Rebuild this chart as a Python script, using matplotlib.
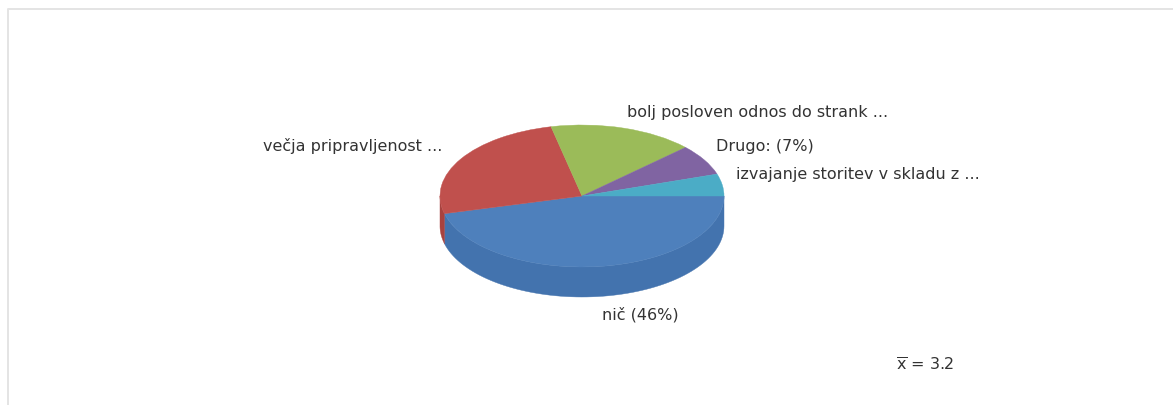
import numpy as np
import matplotlib
matplotlib.use("Agg")
import matplotlib.pyplot as plt
from matplotlib.lines import Line2D

# Survey shares, drawn clockwise from the east
shares = [46, 25.5, 16.5, 7, 5]
top_colors = ["#4E80BC", "#C0504D", "#9BBB59", "#8064A2", "#4BACC6"]
wall_colors = ["#4373AE", "#A8423F", "#87A34C", "#6F568D", "#3F96AD"]
labels = [
    "nič (46%)",
    "večja pripravljenost ...",
    "bolj posloven odnos do strank ...",
    "Drugo: (7%)",
    "izvajanje storitev v skladu z ...",
]
mean_note = r"$\overline{\mathrm{x}}$ = 3.2"

W, H = 1173, 405
CX, CY, RX, RY, DEPTH = 582, 196, 142, 71, 30

plt.rcParams["font.family"] = "DejaVu Sans"
plt.rcParams["mathtext.default"] = "regular"
fig = plt.figure(figsize=(W / 100, H / 100), dpi=100, facecolor="white")
ax = fig.add_axes([0, 0, 1, 1])

# Top face of the pie
ax.pie(shares, colors=top_colors, startangle=0, counterclock=False,
       radius=1, wedgeprops={"linewidth": 0.3, "zorder": 3})
for wedge, color in zip(ax.patches, top_colors):
    wedge.set_edgecolor(color)

# Scale the unit circle into a flattened ellipse
ax.set_aspect("auto")
ax.set_xlim(-CX / RX, (W - CX) / RX)
ax.set_ylim(-(H - CY) / RY, CY / RY)
ax.axis("off")

# Front wall: each wedge's arc on the near half, extruded downward
depth = DEPTH / RY
edges = np.concatenate([[0], np.cumsum(shares)]) * 3.6
for a, b, color in zip(edges[:-1], edges[1:], wall_colors):
    a, b = min(a, 180), min(b, 180)
    if b <= a:
        continue
    t = np.radians(np.linspace(a, b, 80))
    x, y = np.cos(t), -np.sin(t)
    ax.fill(np.r_[x, x[::-1]], np.r_[y, y[::-1] - depth],
            color=color, lw=0.3, zorder=2)

# Labels around the pie
positions = [(602, 315), (263, 146), (627, 112), (716, 146), (736, 175)]
for label, (px, py) in zip(labels, positions):
    fig.text(px / W, 1 - py / H, label, ha="left", va="center",
             fontsize=11.5, color="#333333")
fig.text(896 / W, 1 - 365 / H, mean_note, ha="left", va="center",
         fontsize=11.5, color="#333333")

# Panel border along the top and left
border = "#E4E4E4"
fig.add_artist(Line2D([8 / W, 8 / W, 1], [0, 1 - 9 / H, 1 - 9 / H],
                      color=border, lw=1.4, transform=fig.transFigure))

fig.savefig("out.png", dpi=100, facecolor="white")
